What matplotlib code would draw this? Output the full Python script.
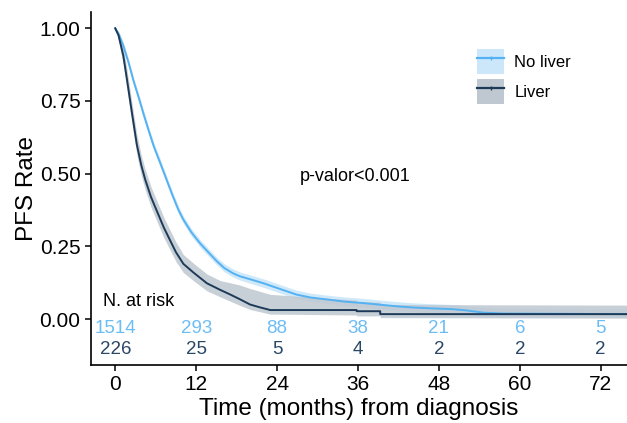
import matplotlib
matplotlib.use("Agg")
import matplotlib.pyplot as plt
from matplotlib.patches import Patch
from matplotlib.lines import Line2D

plt.rcParams['font.family'] = ['Liberation Sans', 'DejaVu Sans']

# ---- data ----
t_noliver = [0, 0.6, 1.2, 2.0, 2.7, 3.5, 4.2, 5.0, 5.7, 6.7, 7.65, 8.5, 9.4, 10.1, 11.3,
             12.6, 13.8, 15.1, 16.2, 17.5, 18.5, 20, 22, 24, 26.9, 29, 31.9, 34, 36.8,
             39, 41.7, 44, 46.7, 50, 52, 54.6, 57.5, 76]
s_noliver = [1.0, 0.975, 0.94, 0.88, 0.82, 0.76, 0.705, 0.645, 0.595, 0.535, 0.477,
             0.425, 0.374, 0.342, 0.298, 0.26, 0.23, 0.198, 0.175, 0.157, 0.147, 0.137,
             0.123, 0.107, 0.084, 0.074, 0.066, 0.06, 0.055, 0.05, 0.044, 0.04, 0.037,
             0.034, 0.03, 0.022, 0.019, 0.017]
lo_noliver = [1.0, 0.965, 0.928, 0.867, 0.807, 0.747, 0.692, 0.632, 0.582, 0.522, 0.464,
              0.412, 0.361, 0.329, 0.285, 0.247, 0.217, 0.185, 0.162, 0.144, 0.134,
              0.123, 0.109, 0.093, 0.07, 0.06, 0.052, 0.046, 0.041, 0.035, 0.029, 0.025,
              0.022, 0.018, 0.014, 0.009, 0.007, 0.006]
hi_noliver = [1.0, 0.985, 0.952, 0.893, 0.833, 0.773, 0.718, 0.658, 0.608, 0.548, 0.490,
              0.438, 0.387, 0.355, 0.311, 0.273, 0.243, 0.211, 0.19, 0.172, 0.162, 0.152,
              0.138, 0.122, 0.099, 0.089, 0.081, 0.076, 0.071, 0.066, 0.06, 0.056, 0.053,
              0.05, 0.046, 0.04, 0.037, 0.034]

t_liver = [0, 0.5, 1.2, 1.73, 2.47, 3.2, 3.85, 4.44, 5.3, 6.2, 7.2, 8.15, 9.0, 10.1, 11.6,
           13.6, 15.6, 17, 18.5, 20, 21.5, 23, 35.8, 35.8, 39.3, 39.3, 76]
s_liver = [1.0, 0.975, 0.905, 0.825, 0.71, 0.60, 0.53, 0.48, 0.42, 0.37, 0.315, 0.27,
           0.23, 0.19, 0.16, 0.123, 0.10, 0.085, 0.068, 0.05, 0.04, 0.031, 0.031, 0.027,
           0.027, 0.017, 0.017]
lo_liver = [1.0, 0.955, 0.875, 0.79, 0.675, 0.565, 0.495, 0.445, 0.385, 0.335, 0.28,
            0.237, 0.198, 0.16, 0.132, 0.097, 0.076, 0.062, 0.047, 0.033, 0.025, 0.017,
            0.014, 0.011, 0.011, 0.005, 0.003]
hi_liver = [1.0, 0.99, 0.935, 0.86, 0.745, 0.635, 0.565, 0.515, 0.455, 0.405, 0.35, 0.305,
            0.265, 0.222, 0.192, 0.155, 0.132, 0.125, 0.117, 0.105, 0.095, 0.085, 0.065,
            0.06, 0.058, 0.05, 0.048]

risk_times = [0, 12, 24, 36, 48, 60, 72]
risk_noliver = [1514, 293, 88, 38, 21, 6, 5]
risk_liver = [226, 25, 5, 4, 2, 2, 2]

x_ticks = [0, 12, 24, 36, 48, 60, 72]
y_ticks = [0.0, 0.25, 0.5, 0.75, 1.0]
y_ticklabels = ["0.00", "0.25", "0.50", "0.75", "1.00"]

# ---- styles ----
c_light = "#55B2F2"
c_light_band = "#CDE7FA"
c_dark = "#1D3B58"
c_dark_band = "#BFC8D0"
c_light_txt = "#6DBDF5"
c_dark_txt = "#2A4766"

fig = plt.figure(figsize=(6.27, 4.23), dpi=100)
ax = fig.add_axes([0.1451, 0.1371, 0.8549, 0.8345])

ax.fill_between(t_noliver, lo_noliver, hi_noliver, color=c_light_band, lw=0, alpha=0.95)
ax.fill_between(t_liver, lo_liver, hi_liver, color=c_dark_band, lw=0, alpha=0.85)
ax.plot(t_noliver, s_noliver, color=c_light, lw=1.4)
ax.plot(t_liver, s_liver, color=c_dark, lw=1.4)

ax.set_xlim(-3.6, 75.9)
ax.set_ylim(-0.158, 1.056)
ax.set_xticks(x_ticks)
ax.set_yticks(y_ticks)
ax.set_yticklabels(y_ticklabels)
ax.tick_params(labelsize=15, length=4, width=1.1, color="black", labelcolor="black")
for s in ["top", "right"]:
    ax.spines[s].set_visible(False)
for s in ["left", "bottom"]:
    ax.spines[s].set_linewidth(1.2)
    ax.spines[s].set_color("black")

ax.set_xlabel("Time (months) from diagnosis", fontsize=17.5)
ax.set_ylabel("PFS Rate", fontsize=17.5)
ax.xaxis.set_label_coords(0.5, -0.0935)
ax.yaxis.set_label_coords(-0.099, 0.5)

ax.text(27.4, 0.49, "p-valor<0.001", fontsize=13, va="center", ha="left")
ax.text(-1.8, 0.062, "N. at risk", fontsize=13, va="center", ha="left")
for t, a, b in zip(risk_times, risk_noliver, risk_liver):
    ax.text(t, -0.034, str(a), color=c_light_txt, fontsize=13.5, ha="center", va="center")
    ax.text(t, -0.103, str(b), color=c_dark_txt, fontsize=13.5, ha="center", va="center")

h1 = (Patch(facecolor=c_light_band, edgecolor="none"),
      Line2D([], [], color=c_light, lw=1.6, marker="|", markersize=3))
h2 = (Patch(facecolor=c_dark_band, edgecolor="none"),
      Line2D([], [], color=c_dark, lw=1.6, marker="|", markersize=3))
ax.legend([h1, h2], ["No liver", "Liver"], loc="upper left",
          bbox_to_anchor=(0.72, 0.895), frameon=False, fontsize=12,
          handlelength=1.65, handleheight=1.95, labelspacing=0.3,
          handletextpad=0.6, borderpad=0, borderaxespad=0)

fig.savefig("out.png", dpi=100)
